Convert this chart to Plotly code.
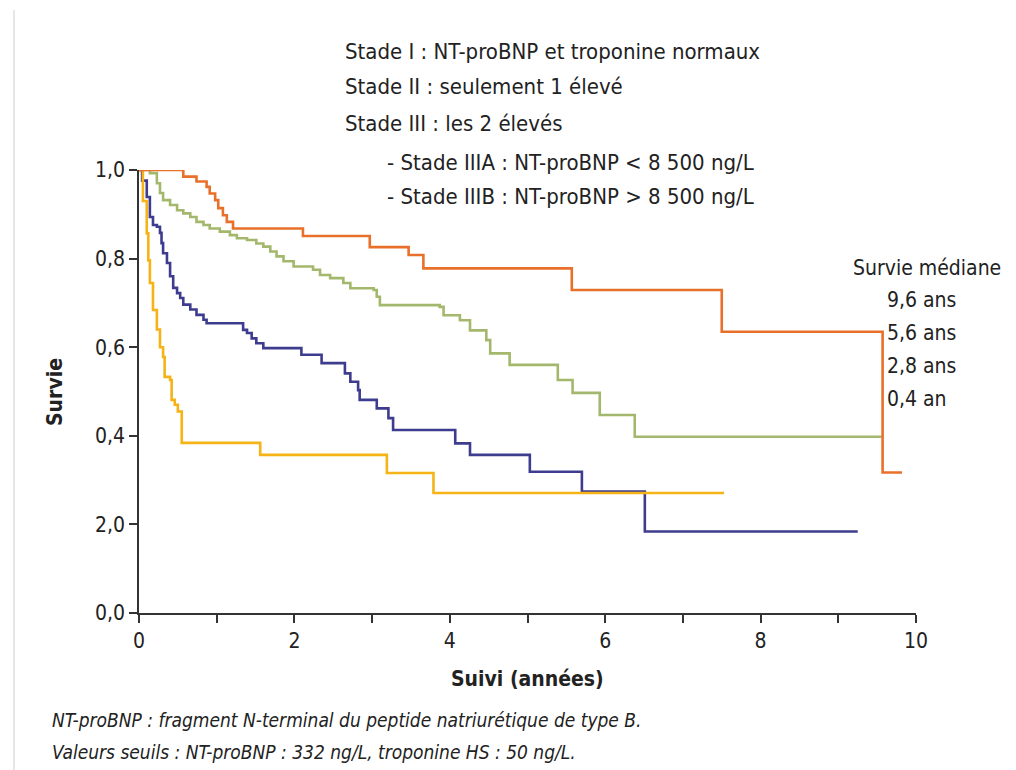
import plotly.graph_objects as go

# ---- data ----
stage1_t = [0, 0.57, 0.74, 0.87, 0.91, 0.98, 1.02, 1.08, 1.13, 1.21, 2.11, 2.97, 3.47, 3.66, 5.57, 7.50, 9.57, 9.82]
stage1_s = [1.0, 0.985, 0.974, 0.962, 0.947, 0.932, 0.914, 0.898, 0.883, 0.868, 0.851, 0.826, 0.808, 0.778, 0.729, 0.635, 0.317, 0.317]

stage2_t = [0, 0.14, 0.23, 0.27, 0.31, 0.40, 0.49, 0.57, 0.66, 0.74, 0.83, 0.91, 1.04, 1.17, 1.26, 1.39, 1.51,
            1.60, 1.69, 1.77, 1.86, 1.99, 2.24, 2.33, 2.46, 2.63, 2.72, 3.02, 3.06, 3.10, 3.87, 3.92, 4.13,
            4.26, 4.47, 4.52, 4.77, 5.39, 5.58, 5.93, 6.38, 9.56]
stage2_s = [1.0, 0.993, 0.970, 0.948, 0.932, 0.921, 0.909, 0.902, 0.894, 0.883, 0.876, 0.868, 0.861, 0.853, 0.846,
            0.842, 0.834, 0.827, 0.816, 0.805, 0.794, 0.782, 0.775, 0.763, 0.756, 0.745, 0.733, 0.729, 0.714,
            0.695, 0.691, 0.672, 0.661, 0.638, 0.616, 0.586, 0.560, 0.526, 0.497, 0.447, 0.398, 0.398]

stage3a_t = [0, 0.04, 0.10, 0.14, 0.18, 0.23, 0.27, 0.29, 0.31, 0.36, 0.40, 0.44, 0.49, 0.53, 0.57, 0.66, 0.74,
             0.83, 0.87, 1.30, 1.34, 1.39, 1.45, 1.51, 1.60, 2.09, 2.35, 2.65, 2.72, 2.82, 2.84, 3.06, 3.21,
             3.27, 4.07, 4.26, 5.03, 5.70, 6.51, 9.25]
stage3a_s = [1.0, 0.976, 0.939, 0.894, 0.876, 0.872, 0.858, 0.835, 0.812, 0.790, 0.760, 0.734, 0.722, 0.711, 0.696,
             0.685, 0.673, 0.662, 0.654, 0.654, 0.639, 0.632, 0.620, 0.609, 0.598, 0.583, 0.564, 0.541, 0.522,
             0.503, 0.481, 0.462, 0.440, 0.413, 0.383, 0.357, 0.319, 0.274, 0.184, 0.184]

stage3b_t = [0, 0.05, 0.10, 0.12, 0.14, 0.18, 0.23, 0.27, 0.31, 0.33, 0.40, 0.42, 0.46, 0.50, 0.55, 1.56, 3.19, 3.79, 7.53]
stage3b_s = [1.0, 0.930, 0.857, 0.796, 0.745, 0.684, 0.640, 0.600, 0.578, 0.533, 0.526, 0.481, 0.470, 0.455, 0.384,
             0.357, 0.316, 0.271, 0.271]

x_ticks = [0, 1, 2, 3, 4, 5, 6, 7, 8, 9, 10]
x_labels = ["0", "", "2", "", "4", "", "6", "", "8", "", "10"]
y_ticks = [0.0, 0.2, 0.4, 0.6, 0.8, 1.0]
y_labels = ["0,0", "2,0", "0,4", "0,6", "0,8", "1,0"]

legend_lines = ["Stade I : NT-proBNP et troponine normaux",
                "Stade II : seulement 1 élevé",
                "Stade III : les 2 élevés",
                "- Stade IIIA : NT-proBNP < 8 500 ng/L",
                "- Stade IIIB : NT-proBNP > 8 500 ng/L"]
median_title = "Survie médiane"
median_lines = ["9,6 ans", "5,6 ans", "2,8 ans", "0,4 an"]
footnotes = ["NT-proBNP : fragment N-terminal du peptide natriurétique de type B.",
             "Valeurs seuils : NT-proBNP : 332 ng/L, troponine HS : 50 ng/L."]

FONT = "Liberation Sans Narrow, DejaVu Sans Condensed, Roboto, sans-serif"
TXT = "#222222"

fig = go.Figure()
series = [
    (stage2_t, stage2_s, "#A3B86C", "Stade II"),
    (stage3a_t, stage3a_s, "#3E3C8F", "Stade IIIA"),
    (stage3b_t, stage3b_s, "#F5B316", "Stade IIIB"),
    (stage1_t, stage1_s, "#E8702A", "Stade I"),
]
for t, s, c, n in series:
    fig.add_trace(go.Scatter(x=t, y=s, mode="lines", line=dict(shape="hv", color=c, width=2.6),
                             name=n, cliponaxis=False, showlegend=False))

# page body has an 8px margin; work in screen pixels and shift
OFF = 8
W, H = 1016 - OFF, 770 - OFF
L, T = 139 - OFF, 170 - OFF
R = W - (916 - OFF)
B = H - (613 - OFF)
pw, ph = W - L - R, H - T - B

def px(x):
    return (x - OFF - L) / pw

def py(y):
    return (H - B - (y - OFF)) / ph

ann = []
legend_x = [343, 343, 343, 385, 385]
legend_y = [52, 87, 123, 162, 196]
for txt, x, y in zip(legend_lines, legend_x, legend_y):
    ann.append(dict(text=txt, x=px(x), y=py(y), xref="paper", yref="paper", xanchor="left", yanchor="middle",
                    showarrow=False, font=dict(family=FONT, size=22, color=TXT)))
ann.append(dict(text=median_title, x=px(1003), y=py(268), xref="paper", yref="paper", xanchor="right",
                yanchor="middle", showarrow=False, font=dict(family=FONT, size=21, color=TXT)))
for i, txt in enumerate(median_lines):
    ann.append(dict(text=txt, x=px(885), y=py(300 + i * 33), xref="paper", yref="paper", xanchor="left",
                    yanchor="middle", showarrow=False, font=dict(family=FONT, size=21, color=TXT)))
for i, txt in enumerate(footnotes):
    ann.append(dict(text="<i>" + txt + "</i>", x=px(50), y=py(720 + i * 32), xref="paper", yref="paper",
                    xanchor="left", yanchor="middle", showarrow=False, font=dict(family=FONT, size=19, color=TXT)))
ann.append(dict(text="<b>Suivi (années)</b>", x=px(527), y=py(679), xref="paper", yref="paper", xanchor="center",
                yanchor="middle", showarrow=False, font=dict(family=FONT, size=21, color=TXT)))
ann.append(dict(text="<b>Survie</b>", x=px(55), y=py(392), xref="paper", yref="paper", xanchor="center",
                yanchor="middle", textangle=-90, showarrow=False, font=dict(family=FONT, size=21, color=TXT)))

fig.update_layout(
    width=W, height=H,
    margin=dict(l=L, r=R, t=T, b=B),
    paper_bgcolor="white", plot_bgcolor="white",
    annotations=ann,
    shapes=[dict(type="line", xref="paper", yref="paper", x0=px(14), x1=px(14), y0=py(10), y1=py(770),
                 line=dict(color="#E6E6E6", width=2))],
    xaxis=dict(range=[0, 10], tickvals=x_ticks, ticktext=x_labels, showgrid=False, zeroline=False,
               showline=True, linecolor="#333333", linewidth=1.5, ticks="outside", ticklen=8, tickwidth=1.5,
               tickcolor="#333333", tickfont=dict(family=FONT, size=21, color=TXT), fixedrange=True),
    yaxis=dict(range=[0, 1], tickvals=y_ticks, ticktext=y_labels, showgrid=False, zeroline=False,
               showline=True, linecolor="#333333", linewidth=1.5, ticks="outside", ticklen=8, tickwidth=1.5,
               tickcolor="#333333", tickfont=dict(family=FONT, size=21, color=TXT), fixedrange=True),
)

fig.write_html("out.html")
